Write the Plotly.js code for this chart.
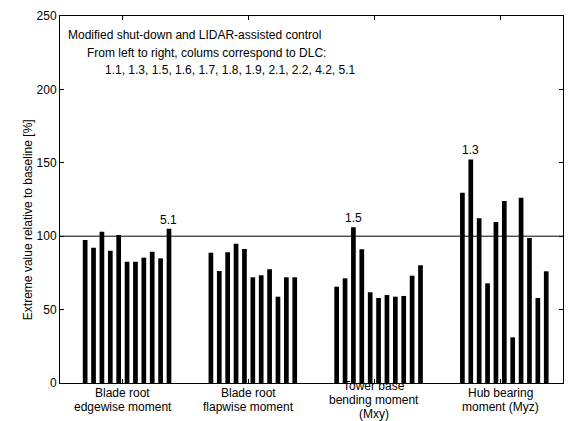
<!DOCTYPE html>
<html>
<head>
<meta charset="utf-8">
<script src="https://cdn.plot.ly/plotly-3.0.1.min.js"></script>
<style>html,body{margin:0;padding:0;background:#fff;}#chart{width:570px;height:421px;}</style>
</head>
<body>
<div id="chart"></div>
<script>
// DLC cases (columns within each group, left to right)
const dlcCases = ['1.1','1.3','1.5','1.6','1.7','1.8','1.9','2.1','2.2','4.2','5.1'];
// Load channel groups
const groupLabels = [
  'Blade root<br>edgewise moment',
  'Blade root<br>flapwise moment',
  'Tower base<br>bending moment<br>(Mxy)',
  'Hub bearing<br>moment (Myz)'
];
// Extreme value relative to baseline [%]
const edgewise = [97.4, 92.2, 103.1, 90.1, 100.8, 82.6, 82.6, 85.4, 89.4, 84.9, 105.1];
const flapwise = [88.8, 76.3, 89.0, 94.9, 91.3, 72.0, 73.4, 77.5, 58.8, 72.0, 72.0];
const towerBase = [65.6, 71.3, 106.1, 91.1, 61.8, 57.9, 59.9, 58.8, 59.3, 73.1, 80.2];
const hubBearing = [129.6, 152.3, 112.2, 67.9, 109.7, 124.0, 31.1, 126.2, 98.8, 57.9, 76.1];
const yTickVals = [0, 50, 100, 150, 200, 250];
const baselineLevel = 100;

const groups = [edgewise, flapwise, towerBase, hubBearing];
const slotsPerGroup = 15, firstOffset = 3;
const FS = 12;
const txt = {size: FS, color: '#000'};

const xs = [], ys = [], hover = [];
const annotations = [];
groups.forEach((vals, g) => {
  let maxI = 0;
  vals.forEach((v, i) => {
    xs.push(g * slotsPerGroup + firstOffset + i);
    ys.push(v);
    hover.push(dlcCases[i]);
    if (v > vals[maxI]) maxI = i;
  });
  if (vals[maxI] > baselineLevel) {
    annotations.push({
      x: g * slotsPerGroup + firstOffset + maxI, y: vals[maxI], xref: 'x', yref: 'y',
      text: dlcCases[maxI], showarrow: false, yanchor: 'bottom', yshift: 0, font: txt
    });
  }
});
const groupCenters = groups.map((_, g) => g * slotsPerGroup + slotsPerGroup / 2);
groupLabels.forEach((lab, g) => {
  const lines = lab.split('<br>');
  const n = lines.length;
  lines.forEach((ln, k) => {
    annotations.push({
      x: groupCenters[g], y: -0.0463, xref: 'x', yref: 'paper', text: ln,
      yshift: -(k - (n - 1) / 2) * 14,
      showarrow: false, yanchor: 'middle', xanchor: 'center', align: 'center', font: txt
    });
  });
});
// header text
annotations.push(
  {x: 0.0119, y: 0.9493, xref: 'paper', yref: 'paper', xanchor: 'left', yanchor: 'middle', showarrow: false,
   text: 'Modified shut-down and LIDAR-assisted control', font: txt},
  {x: 0.0497, y: 0.9003, xref: 'paper', yref: 'paper', xanchor: 'left', yanchor: 'middle', showarrow: false,
   text: 'From left to right, colums correspond to DLC:', font: txt},
  {x: 0.0854, y: 0.8541, xref: 'paper', yref: 'paper', xanchor: 'left', yanchor: 'middle', showarrow: false,
   text: dlcCases.join(', '), font: txt}
);
// y-axis title
annotations.push({
  x: -0.0636, y: 0.4438, xref: 'paper', yref: 'paper', showarrow: false, textangle: -90,
  xanchor: 'center', yanchor: 'middle',
  text: 'Extreme value relative to baseline [%]', font: txt
});

const trace = {
  type: 'bar', x: xs, y: ys, text: hover, hoverinfo: 'y+text', textposition: 'none',
  width: 0.56, marker: {color: '#000', line: {width: 0}}
};

const layout = {
  width: 570, height: 421,
  margin: {l: 60, r: 7, t: 16, b: 38},
  paper_bgcolor: '#fff', plot_bgcolor: '#fff',
  font: {family: '"Liberation Sans", Arial, sans-serif', size: FS, color: '#000'},
  showlegend: false,
  xaxis: {
    range: [0, slotsPerGroup * groups.length], tickvals: groupCenters, showticklabels: false,
    ticks: 'inside', ticklen: 4, tickcolor: '#000', showline: true, linecolor: '#000', linewidth: 1,
    mirror: 'ticks', showgrid: false, zeroline: false, fixedrange: true
  },
  yaxis: {
    range: [0, 250], tickvals: yTickVals, ticks: 'inside', ticklen: 4, tickcolor: '#000',
    showline: true, linecolor: '#000', linewidth: 1, mirror: 'ticks', showgrid: false,
    zeroline: false, tickfont: txt, fixedrange: true
  },
  shapes: [{type: 'line', xref: 'paper', x0: 0, x1: 1, yref: 'y', y0: baselineLevel, y1: baselineLevel,
            line: {color: '#000', width: 1}}],
  annotations: annotations
};

Plotly.newPlot('chart', [trace], layout, {displayModeBar: false, staticPlot: true});
</script>
</body>
</html>
